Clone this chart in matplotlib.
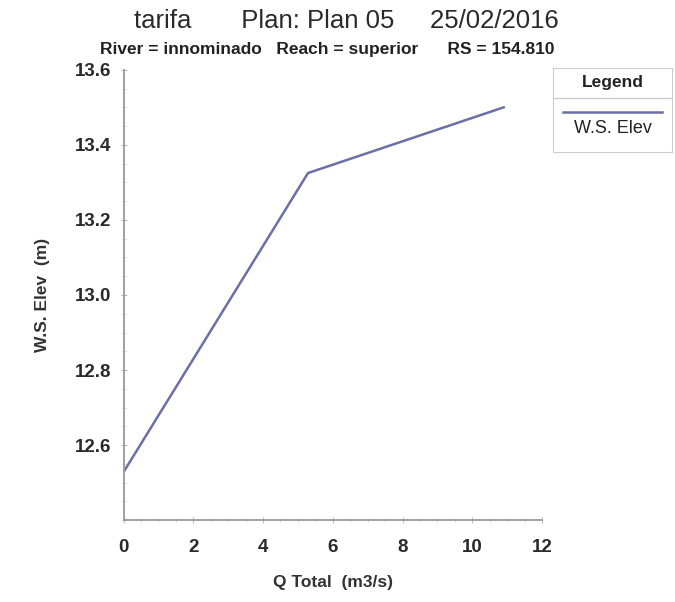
import matplotlib
matplotlib.use("Agg")
import matplotlib.pyplot as plt
from matplotlib.ticker import MultipleLocator

q_total = [0.0, 5.29, 10.9]
ws_elev = [12.528, 13.325, 13.50]
x_ticks = [0, 2, 4, 6, 8, 10, 12]
y_ticks = [12.6, 12.8, 13.0, 13.2, 13.4, 13.6]

plt.rcParams['font.family'] = ['Liberation Sans', 'DejaVu Sans']

fig = plt.figure(figsize=(6.75, 6.02), dpi=100)
ax = fig.add_axes([0.183, 0.136, 0.620, 0.748])
ax.plot(q_total, ws_elev, color='#6b6fa6', lw=1.8)
ax.set_xlim(0, 12)
ax.set_ylim(12.4, 13.6)
ax.set_xticks(x_ticks)
ax.set_yticks(y_ticks)
ax.set_xticklabels([str(v) for v in x_ticks], fontsize=13.5, fontweight='bold', color='#2a2a2a')
ax.set_yticklabels([f"{v:.1f}" for v in y_ticks], fontsize=13.5, fontweight='bold', color='#2a2a2a')
ax.xaxis.set_minor_locator(MultipleLocator(0.5))
ax.yaxis.set_minor_locator(MultipleLocator(0.05))
for s in ['top', 'right']:
    ax.spines[s].set_visible(False)
for s in ['left', 'bottom']:
    ax.spines[s].set_color('#9a9a9a')
    ax.spines[s].set_linewidth(1.3)
ax.tick_params(axis='both', which='major', length=5, direction='inout', color='#bbbbbb')
ax.tick_params(axis='x', which='major', pad=11)
ax.tick_params(axis='y', which='major', pad=6)
ax.tick_params(axis='both', which='minor', length=3, direction='inout', color='#cccccc')
ax.set_xlabel('Q Total  (m3/s)', fontsize=12.5, fontweight='bold', color='#333333', labelpad=14)
ax.set_ylabel('W.S. Elev  (m)', fontsize=12.5, fontweight='bold', color='#333333', labelpad=18)

fig.text(0.513, 0.965, 'tarifa       Plan: Plan 05     25/02/2016', ha='center', va='center',
         fontsize=18.5, color='#2a2a2a')
fig.text(0.485, 0.918, 'River = innominado   Reach = superior      RS = 154.810', ha='center',
         va='center', fontsize=12.5, fontweight='bold', color='#222222')

# legend box outside the axes
lax = fig.add_axes([553/675, 1-152/602, (672-553)/675, (152-68)/602])
lax.set_xlim(0, 1)
lax.set_ylim(0, 1)
lax.set_xticks([])
lax.set_yticks([])
for s in lax.spines.values():
    s.set_color('#cccccc')
lax.axhline(0.64, color='#cccccc', lw=1)
lax.text(0.5, 0.83, 'Legend', ha='center', va='center', fontsize=12.5, fontweight='bold', color='#222222')
lax.plot([0.08, 0.92], [0.48, 0.48], color='#6b6fa6', lw=1.8)
lax.text(0.5, 0.28, 'W.S. Elev', ha='center', va='center', fontsize=13, color='#222222')

fig.savefig('out.png', dpi=100)
